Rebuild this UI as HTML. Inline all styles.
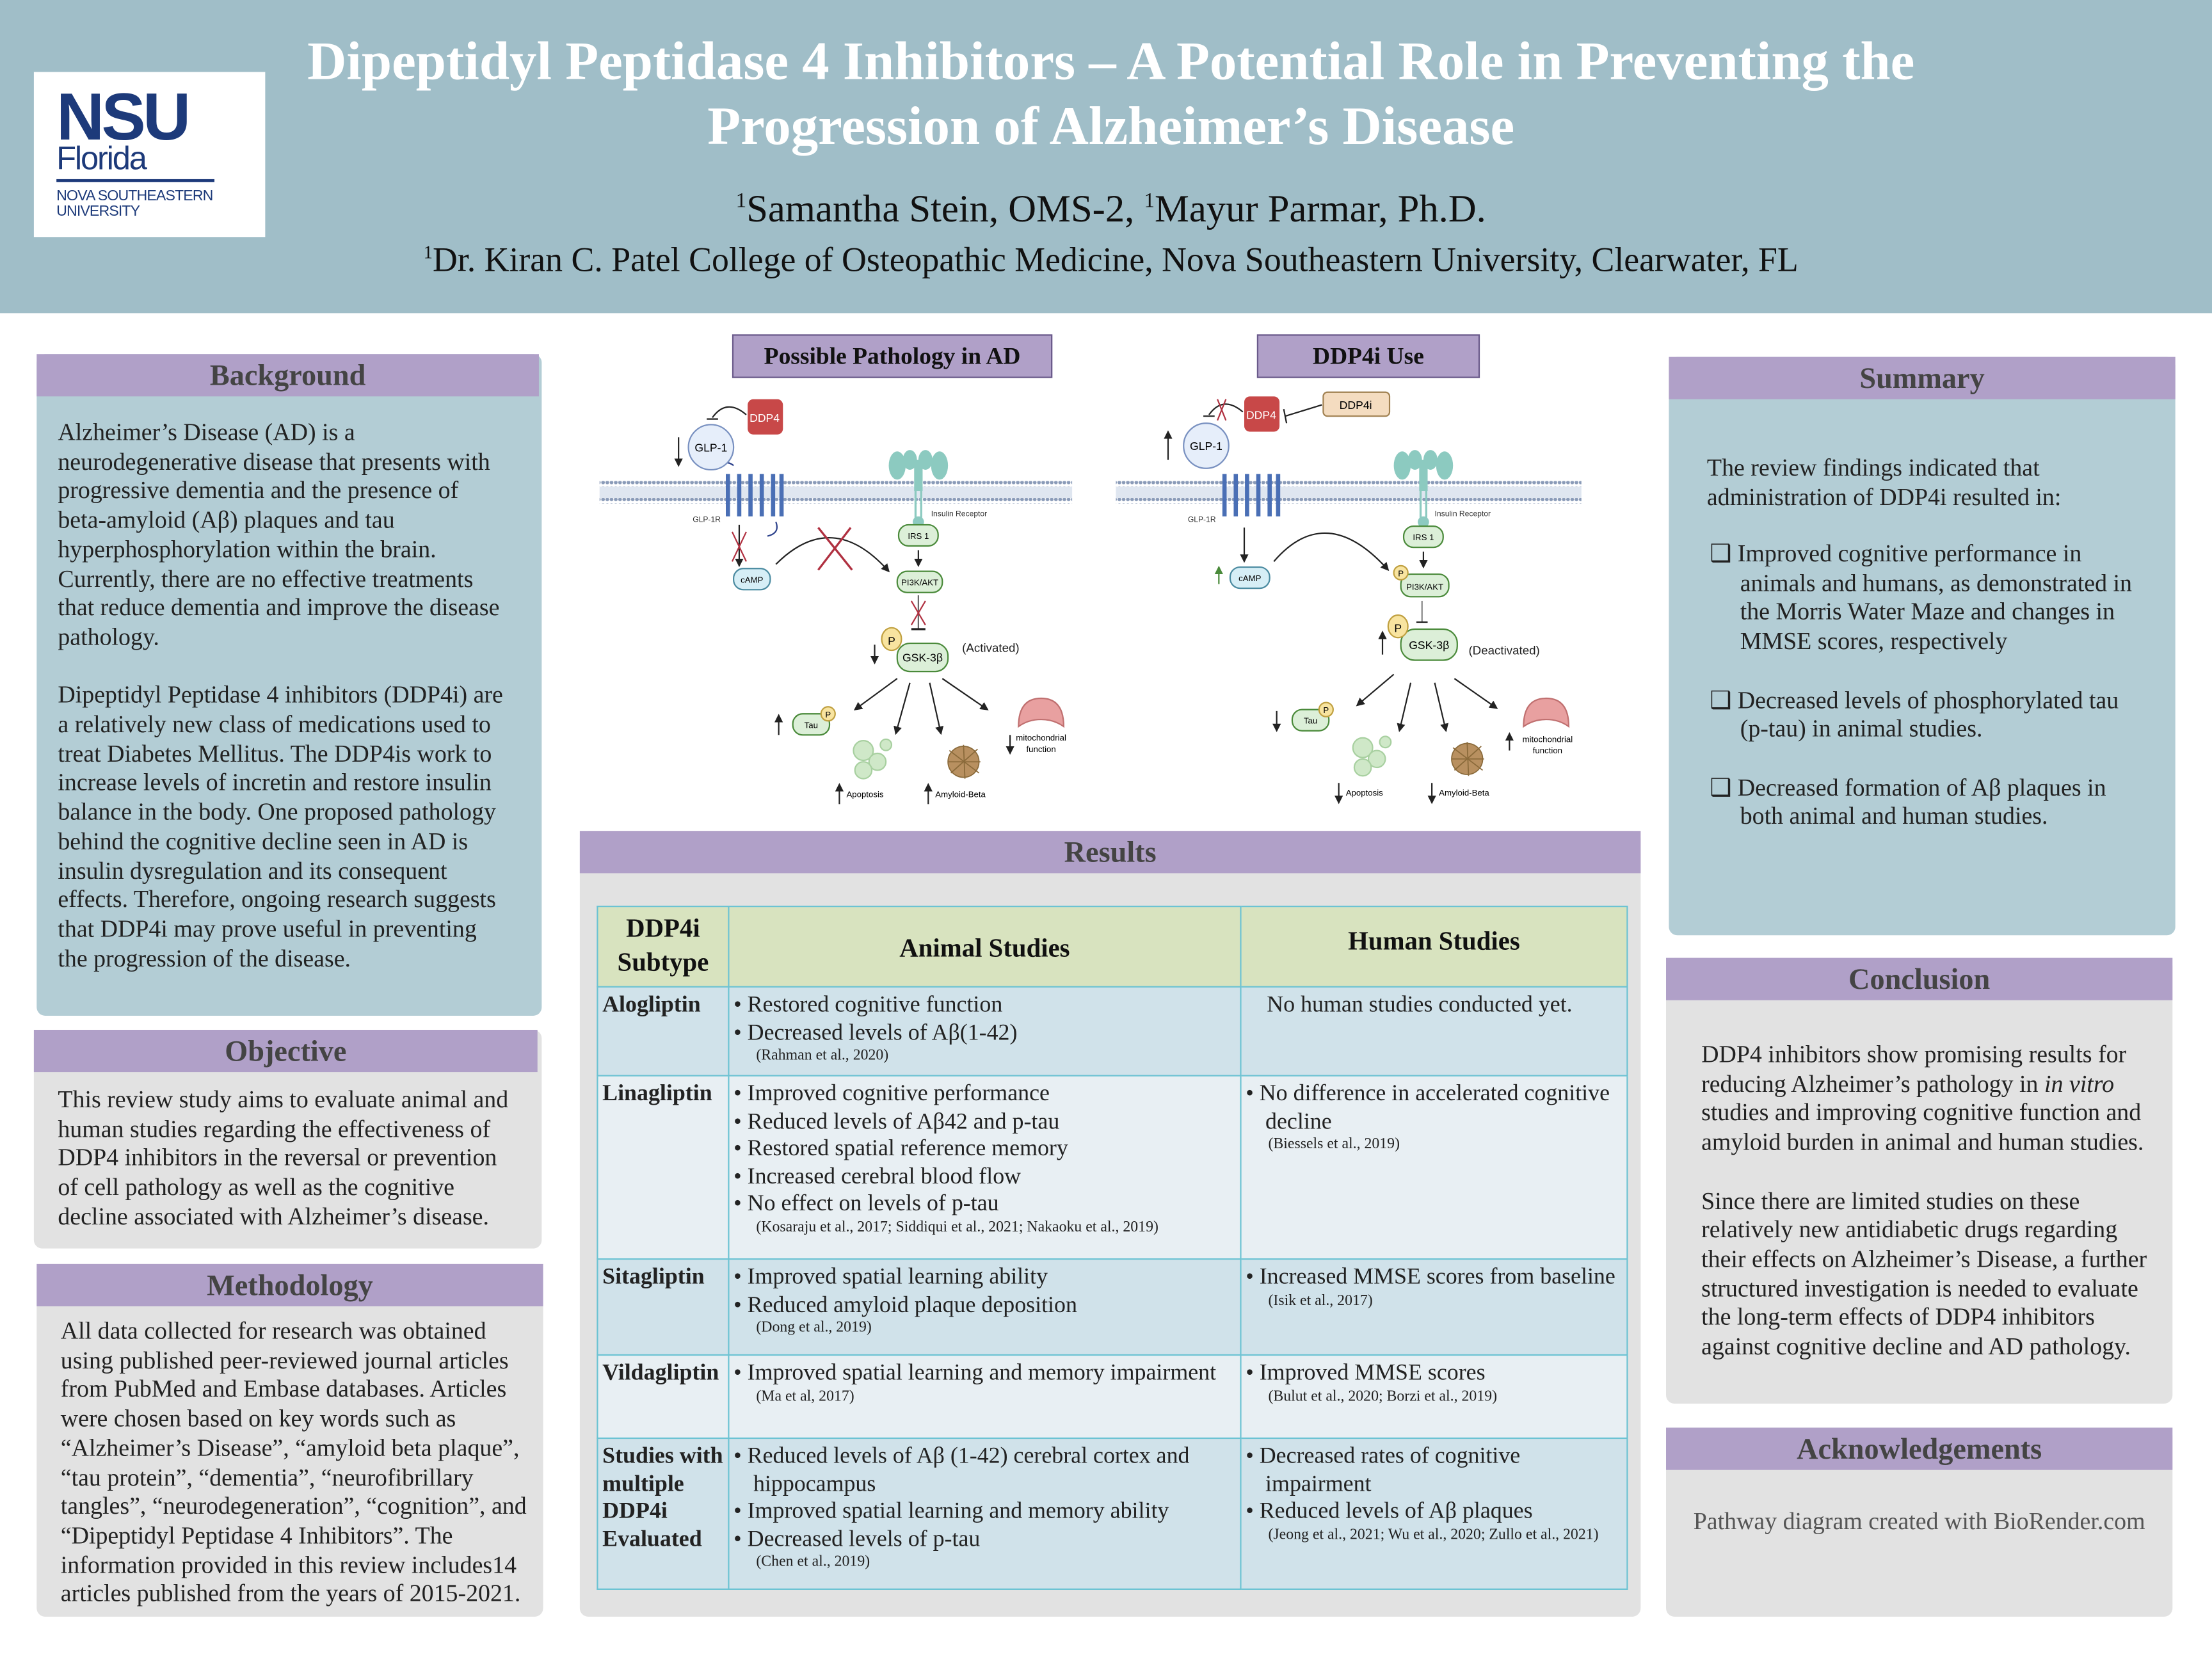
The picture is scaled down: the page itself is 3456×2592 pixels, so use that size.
<!DOCTYPE html>
<html><head><meta charset="utf-8">
<style>
html,body{margin:0;padding:0;background:#fff;}
body{width:3456px;height:2592px;overflow:hidden;}
#p{position:absolute;left:0;top:0;width:1568px;height:1176px;transform:scale(2.20408);transform-origin:0 0;font-family:"Liberation Serif",serif;color:#222;}
.abs{position:absolute;}
.hdr{position:absolute;background:#b0a0c8;color:#444;font-weight:bold;font-size:21px;text-align:center;line-height:30px;height:30px;}
.box{position:absolute;border-radius:6px;}
.txt{position:absolute;font-size:17.2px;line-height:20.7px;white-space:nowrap;}
table{border-collapse:collapse;font-size:16.3px;line-height:19.6px;}
td{border:1px solid #6cc3d3;vertical-align:top;padding:2px 3px;}
.cit{font-size:10.8px;line-height:14px;padding-left:16px;}
.b{padding-left:14px;text-indent:-14px;}
</style></head><body><div id="p">
<div class="abs" style="left:0;top:0;width:1568px;height:222px;background:#a0bec8;"></div>
<div class="abs" style="left:24px;top:51px;width:164px;height:117px;background:#fff;"></div>
<div class="abs" style="left:40px;top:55px;font-family:'Liberation Sans',sans-serif;font-weight:bold;font-size:47px;color:#1d3a7a;letter-spacing:-2px;">NSU</div>
<div class="abs" style="left:40px;top:99px;font-family:'Liberation Sans',sans-serif;font-size:23px;color:#1d3a7a;letter-spacing:-1px;">Florida</div>
<div class="abs" style="left:40px;top:127px;width:112px;height:1.5px;background:#1d3a7a;"></div>
<div class="abs" style="left:40px;top:134px;font-family:'Liberation Sans',sans-serif;font-size:10.5px;line-height:11px;color:#1d3a7a;letter-spacing:-0.4px;">NOVA SOUTHEASTERN<br>UNIVERSITY</div>
<div class="abs" style="left:150px;top:21px;width:1275px;text-align:center;color:#fff;font-weight:bold;font-size:38.5px;line-height:46px;white-space:nowrap;">Dipeptidyl Peptidase 4 Inhibitors – A Potential Role in Preventing the<br>Progression of Alzheimer’s Disease</div>
<div class="abs" style="left:300px;top:132px;width:975px;text-align:center;font-size:27.5px;color:#111;"><sup style="font-size:15px">1</sup>Samantha Stein, OMS-2, <sup style="font-size:15px">1</sup>Mayur Parmar, Ph.D.</div>
<div class="abs" style="left:200px;top:171px;width:1175px;text-align:center;font-size:24.4px;color:#111;white-space:nowrap;"><sup style="font-size:13px">1</sup>Dr. Kiran C. Patel College of Osteopathic Medicine, Nova Southeastern University, Clearwater, FL</div>

<div class="box" style="left:26px;top:251px;width:358px;height:469px;background:#b3cdd5;"></div>
<div class="hdr" style="left:26px;top:251px;width:356px;">Background</div>
<div class="txt" style="left:41px;top:297px;">Alzheimer’s Disease (AD) is a<br>neurodegenerative disease that presents with<br>progressive dementia and the presence of<br>beta-amyloid (Aβ) plaques and tau<br>hyperphosphorylation within the brain.<br>Currently, there are no effective treatments<br>that reduce dementia and improve the disease<br>pathology.<br><br>Dipeptidyl Peptidase 4 inhibitors (DDP4i) are<br>a relatively new class of medications used to<br>treat Diabetes Mellitus. The DDP4is work to<br>increase levels of incretin and restore insulin<br>balance in the body. One proposed pathology<br>behind the cognitive decline seen in AD is<br>insulin dysregulation and its consequent<br>effects. Therefore, ongoing research suggests<br>that DDP4i may prove useful in preventing<br>the progression of the disease.</div>

<div class="box" style="left:24px;top:730px;width:360px;height:155px;background:#e2e2e2;"></div>
<div class="hdr" style="left:24px;top:730px;width:357px;">Objective</div>
<div class="txt" style="left:41px;top:770px;">This review study aims to evaluate animal and<br>human studies regarding the effectiveness of<br>DDP4 inhibitors in the reversal or prevention<br>of cell pathology as well as the cognitive<br>decline associated with Alzheimer’s disease.</div>

<div class="box" style="left:26px;top:896px;width:359px;height:250px;background:#e2e2e2;"></div>
<div class="hdr" style="left:26px;top:896px;width:359px;">Methodology</div>
<div class="txt" style="left:43px;top:934px;">All data collected for research was obtained<br>using published peer-reviewed journal articles<br>from PubMed and Embase databases. Articles<br>were chosen based on key words such as<br>“Alzheimer’s Disease”, “amyloid beta plaque”,<br>“tau protein”, “dementia”, “neurofibrillary<br>tangles”, “neurodegeneration”, “cognition”, and<br>“Dipeptidyl Peptidase 4 Inhibitors”. The<br>information provided in this review includes14<br>articles published from the years of 2015-2021.</div>

<div class="abs" style="left:519px;top:237px;width:225px;height:29px;background:#b0a0c8;border:1px solid #6a5a8a;text-align:center;font-weight:bold;font-size:17px;line-height:30px;color:#111;">Possible Pathology in AD</div>
<div class="abs" style="left:891px;top:237px;width:156px;height:29px;background:#b0a0c8;border:1px solid #6a5a8a;text-align:center;font-weight:bold;font-size:17px;line-height:30px;color:#111;">DDP4i Use</div>
<svg class="abs" style="left:0;top:0" width="1568" height="600" viewBox="0 0 1568 600" font-family="Liberation Sans, sans-serif">
<defs>
<pattern id="dots" width="3" height="4" patternUnits="userSpaceOnUse"><circle cx="1.5" cy="2" r="1.3" fill="#8a9bb8"/></pattern>
<marker id="ah" markerWidth="6" markerHeight="6" refX="5" refY="3" orient="auto"><path d="M0,0 L6,3 L0,6 z" fill="#222"/></marker>
<marker id="ahg" markerWidth="6" markerHeight="6" refX="5" refY="3" orient="auto"><path d="M0,0 L6,3 L0,6 z" fill="#4a8a3a"/></marker>
</defs>
<g>
<rect x="425" y="341" width="335" height="4" fill="url(#dots)"/>
<rect x="425" y="345" width="335" height="8" fill="#dfe6f0"/>
<rect x="425" y="353" width="335" height="4" fill="url(#dots)"/>
<g fill="none" stroke="#4a6fb5" stroke-width="3"><path d="M516,336 v30 M524,336 v30 M532,336 v30 M540,336 v30 M548,336 v30 M554,336 v30"/></g>
<path d="M510,330 q5,-4 10,0 M550,370 q3,8 -6,10" stroke="#2a3f8a" stroke-width="1" fill="none"/>
<text x="491" y="370" font-size="5.5" fill="#333">GLP-1R</text>
<circle cx="504" cy="317" r="16" fill="#e6eefa" stroke="#7890c0"/>
<text x="504" y="320" font-size="8" text-anchor="middle">GLP-1</text>
<line x1="481" y1="310" x2="481" y2="330" stroke="#222" marker-end="url(#ah)"/>
<rect x="530" y="283" width="25" height="25" rx="4" fill="#c84848"/>
<text x="542" y="299" font-size="8" fill="#fff" text-anchor="middle">DDP4</text>
<path d="M529,294 q-14,-12 -24,2" stroke="#222" fill="none"/><line x1="501" y1="297" x2="509" y2="297" stroke="#222"/>
<g fill="#8ccac0"><ellipse cx="636" cy="330" rx="6" ry="10"/><ellipse cx="666" cy="330" rx="6" ry="10"/><ellipse cx="645" cy="326" rx="5" ry="7"/><ellipse cx="656" cy="326" rx="5" ry="7"/><rect x="648" y="326" width="6" height="22"/><circle cx="651" cy="370" r="4"/></g>
<path d="M649,348 v20 M653,348 v20" stroke="#8ccac0" stroke-width="1.5"/>
<text x="660" y="366" font-size="5.5" fill="#333">Insulin Receptor</text>
<rect x="637" y="372" width="28" height="15" rx="7" fill="#dcefd8" stroke="#4a8a3a"/>
<text x="651" y="382" font-size="6" text-anchor="middle">IRS 1</text>
<line x1="651" y1="390" x2="651" y2="401" stroke="#222" marker-end="url(#ah)"/>
<rect x="636" y="405" width="32" height="15" rx="7" fill="#dcefd8" stroke="#4a8a3a"/>
<text x="652" y="415" font-size="6" text-anchor="middle">PI3K/AKT</text>
<line x1="524" y1="372" x2="524" y2="401" stroke="#222" marker-end="url(#ah)"/>
<rect x="520" y="403" width="26" height="15" rx="7" fill="#d6eef6" stroke="#4a8aa0"/>
<text x="533" y="413" font-size="6" text-anchor="middle">cAMP</text>
<path d="M550,400 Q590,360 630,405" stroke="#222" fill="none" marker-end="url(#ah)"/>
<path d="M580,374 L604,404 M603,374 L580,404" stroke="#b03040" stroke-width="1.5"/>
<path d="M519,377 L529,398 M529,377 L519,398" stroke="#b03040" stroke-width="1"/>
<line x1="651" y1="422" x2="651" y2="446" stroke="#666"/><line x1="646" y1="446" x2="656" y2="446" stroke="#222" stroke-width="1.5"/>
<path d="M646,426 L656,443 M656,426 L646,443" stroke="#b03040"/>
<rect x="636" y="456" width="36" height="20" rx="9" fill="#dcefd8" stroke="#4a8a3a"/>
<text x="654" y="469" font-size="8" text-anchor="middle">GSK-3β</text>
<ellipse cx="632" cy="453" rx="7" ry="8" fill="#f8e4a0" stroke="#c0a040"/><text x="632" y="457" font-size="8" text-anchor="middle">P</text>
<line x1="620" y1="457" x2="620" y2="470" stroke="#222" marker-end="url(#ah)"/>
<text x="682" y="462" font-size="8.5" fill="#222">(Activated)</text>
<g stroke="#222" fill="none" marker-end="url(#ah)">
<line x1="636" y1="481" x2="606" y2="503"/><line x1="645" y1="484" x2="635" y2="520"/><line x1="659" y1="484" x2="667" y2="520"/><line x1="668" y1="481" x2="700" y2="503"/>
</g>
<rect x="562" y="506" width="26" height="15" rx="7" fill="#dcefd8" stroke="#4a8a3a"/><text x="575" y="516" font-size="6" text-anchor="middle">Tau</text>
<circle cx="587" cy="506" r="5" fill="#f8e4a0" stroke="#c0a040"/><text x="587" y="508.5" font-size="6" text-anchor="middle">P</text>
<line x1="552" y1="521" x2="552" y2="507" stroke="#222" marker-end="url(#ah)"/>
<g fill="#cfe8c8" stroke="#a8d0a0"><circle cx="612" cy="532" r="7"/><circle cx="622" cy="540" r="6"/><circle cx="612" cy="546" r="6"/><circle cx="628" cy="528" r="4"/></g>
<line x1="595" y1="570" x2="595" y2="556" stroke="#222" marker-end="url(#ah)"/><text x="600" y="565" font-size="6">Apoptosis</text>
<g stroke="#8a6a3a" stroke-width="0.8" fill="none"><circle cx="683" cy="540" r="11" fill="#b89060"/><path d="M673,532 L694,548 M674,548 L693,531 M672,540 L695,540 M683,528 L684,552"/></g>
<line x1="658" y1="570" x2="658" y2="556" stroke="#222" marker-end="url(#ah)"/><text x="663" y="565" font-size="6">Amyloid-Beta</text>
<path d="M722,515 Q722,495 738,495 Q754,495 754,515 Q747,510 738,510 Q729,510 722,515 z" fill="#e8a0a0" stroke="#c07070"/>
<text x="738" y="525" font-size="6" text-anchor="middle">mitochondrial</text><text x="738" y="533" font-size="6" text-anchor="middle">function</text>
<line x1="716" y1="521" x2="716" y2="534" stroke="#222" marker-end="url(#ah)"/>
</g>
<g>
<rect x="791" y="341" width="330" height="4" fill="url(#dots)"/>
<rect x="791" y="345" width="330" height="8" fill="#dfe6f0"/>
<rect x="791" y="353" width="330" height="4" fill="url(#dots)"/>
<g fill="none" stroke="#4a6fb5" stroke-width="3"><path d="M868,336 v30 M876,336 v30 M884,336 v30 M892,336 v30 M900,336 v30 M906,336 v30"/></g>
<text x="842" y="370" font-size="5.5" fill="#333">GLP-1R</text>
<circle cx="855" cy="316" r="16" fill="#e6eefa" stroke="#7890c0"/><text x="855" y="319" font-size="8" text-anchor="middle">GLP-1</text>
<line x1="828" y1="326" x2="828" y2="306" stroke="#222" marker-end="url(#ah)"/>
<rect x="882" y="281" width="25" height="25" rx="4" fill="#c84848"/><text x="894" y="297" font-size="8" fill="#fff" text-anchor="middle">DDP4</text>
<path d="M881,292 q-14,-12 -24,2" stroke="#222" fill="none"/><line x1="853" y1="295" x2="861" y2="295" stroke="#222"/>
<path d="M863,283 L869,298 M869,283 L863,298" stroke="#b03040"/>
<rect x="938" y="278" width="47" height="17" rx="3" fill="#f4dcc0" stroke="#a08050"/><text x="961" y="290" font-size="8" text-anchor="middle">DDP4i</text>
<line x1="937" y1="287" x2="911" y2="295" stroke="#222"/><line x1="910" y1="290" x2="912" y2="300" stroke="#222"/>
<g fill="#8ccac0"><ellipse cx="994" cy="330" rx="6" ry="10"/><ellipse cx="1024" cy="330" rx="6" ry="10"/><ellipse cx="1003" cy="326" rx="5" ry="7"/><ellipse cx="1014" cy="326" rx="5" ry="7"/><rect x="1006" y="326" width="6" height="22"/><circle cx="1009" cy="370" r="4"/></g>
<path d="M1007,348 v20 M1011,348 v20" stroke="#8ccac0" stroke-width="1.5"/>
<text x="1017" y="366" font-size="5.5" fill="#333">Insulin Receptor</text>
<rect x="995" y="373" width="28" height="15" rx="7" fill="#dcefd8" stroke="#4a8a3a"/><text x="1009" y="383" font-size="6" text-anchor="middle">IRS 1</text>
<line x1="1009" y1="391" x2="1009" y2="402" stroke="#222" marker-end="url(#ah)"/>
<rect x="993" y="407" width="34" height="16" rx="7" fill="#dcefd8" stroke="#4a8a3a"/><text x="1010" y="418" font-size="6" text-anchor="middle">PI3K/AKT</text>
<circle cx="993" cy="406" r="5" fill="#f8e4a0" stroke="#c0a040"/><text x="993" y="408.5" font-size="6" text-anchor="middle">P</text>
<line x1="882" y1="374" x2="882" y2="398" stroke="#222" marker-end="url(#ah)"/>
<rect x="872" y="402" width="28" height="15" rx="7" fill="#d6eef6" stroke="#4a8aa0"/><text x="886" y="412" font-size="6" text-anchor="middle">cAMP</text>
<line x1="864" y1="414" x2="864" y2="402" stroke="#4a8a3a" marker-end="url(#ahg)"/>
<path d="M903,398 Q940,355 984,404" stroke="#222" fill="none" marker-end="url(#ah)"/>
<line x1="1008" y1="426" x2="1008" y2="441" stroke="#888"/><line x1="1004" y1="441" x2="1012" y2="441" stroke="#222"/>
<rect x="993" y="446" width="40" height="22" rx="10" fill="#dcefd8" stroke="#4a8a3a"/><text x="1013" y="460" font-size="8" text-anchor="middle">GSK-3β</text>
<ellipse cx="991" cy="444" rx="7" ry="8" fill="#f8e4a0" stroke="#c0a040"/><text x="991" y="448" font-size="8" text-anchor="middle">P</text>
<line x1="980" y1="464" x2="980" y2="448" stroke="#222" marker-end="url(#ah)"/>
<text x="1041" y="464" font-size="8.5" fill="#222">(Deactivated)</text>
<g stroke="#222" fill="none" marker-end="url(#ah)">
<line x1="988" y1="478" x2="962" y2="500"/><line x1="1000" y1="484" x2="992" y2="518"/><line x1="1017" y1="484" x2="1025" y2="518"/><line x1="1031" y1="481" x2="1061" y2="502"/>
</g>
<rect x="916" y="503" width="26" height="15" rx="7" fill="#dcefd8" stroke="#4a8a3a"/><text x="929" y="513" font-size="6" text-anchor="middle">Tau</text>
<circle cx="940" cy="503" r="5" fill="#f8e4a0" stroke="#c0a040"/><text x="940" y="505.5" font-size="6" text-anchor="middle">P</text>
<line x1="905" y1="504" x2="905" y2="518" stroke="#222" marker-end="url(#ah)"/>
<g fill="#cfe8c8" stroke="#a8d0a0"><circle cx="966" cy="530" r="7"/><circle cx="976" cy="538" r="6"/><circle cx="966" cy="544" r="6"/><circle cx="982" cy="526" r="4"/></g>
<line x1="949" y1="555" x2="949" y2="569" stroke="#222" marker-end="url(#ah)"/><text x="954" y="564" font-size="6">Apoptosis</text>
<g stroke="#8a6a3a" stroke-width="0.8" fill="none"><circle cx="1040" cy="538" r="11" fill="#b89060"/><path d="M1030,530 L1051,546 M1031,546 L1050,529 M1029,538 L1052,538 M1040,526 L1041,550"/></g>
<line x1="1015" y1="555" x2="1015" y2="569" stroke="#222" marker-end="url(#ah)"/><text x="1020" y="564" font-size="6">Amyloid-Beta</text>
<path d="M1080,515 Q1080,495 1096,495 Q1112,495 1112,515 Q1105,510 1096,510 Q1087,510 1080,515 z" fill="#e8a0a0" stroke="#c07070"/>
<text x="1097" y="526" font-size="6" text-anchor="middle">mitochondrial</text><text x="1097" y="534" font-size="6" text-anchor="middle">function</text>
<line x1="1070" y1="532" x2="1070" y2="520" stroke="#222" marker-end="url(#ah)"/>
</g>
</svg>

<div class="box" style="left:411px;top:589px;width:752px;height:557px;background:#e2e2e2;"></div>
<div class="hdr" style="left:411px;top:589px;width:752px;">Results</div>
<table class="abs" style="left:423px;top:642px;width:731px;">
<tr style="background:#d8e3bf;height:57px;"><td style="width:86px;text-align:center;font-weight:bold;font-size:18.5px;line-height:24px;vertical-align:middle;color:#111;">DDP4i<br>Subtype</td><td style="width:356px;text-align:center;font-weight:bold;font-size:18.5px;vertical-align:middle;color:#111;padding-top:8px;">Animal Studies</td><td style="text-align:center;font-weight:bold;font-size:18.5px;vertical-align:middle;color:#111;padding-bottom:6px;">Human Studies</td></tr>
<tr style="background:#d0e2ea;height:63px;"><td><b>Alogliptin</b></td><td><div class="b">• Restored cognitive function</div><div class="b">• Decreased levels of Aβ(1-42)</div><div class="cit">(Rahman et al., 2020)</div></td><td style="padding-left:18px">No human studies conducted yet.</td></tr>
<tr style="background:#e8eff3;height:130px;"><td><b>Linagliptin</b></td><td><div class="b">• Improved cognitive performance</div><div class="b">• Reduced levels of Aβ42 and p-tau</div><div class="b">• Restored spatial reference memory</div><div class="b">• Increased cerebral blood flow</div><div class="b">• No effect on levels of p-tau</div><div class="cit">(Kosaraju et al., 2017; Siddiqui et al., 2021; Nakaoku et al., 2019)</div></td><td><div class="b">• No difference in accelerated cognitive decline</div><div class="cit">(Biessels et al., 2019)</div></td></tr>
<tr style="background:#d0e2ea;height:68px;"><td><b>Sitagliptin</b></td><td><div class="b">• Improved spatial learning ability</div><div class="b">• Reduced amyloid plaque deposition</div><div class="cit">(Dong et al., 2019)</div></td><td><div class="b" style="white-space:nowrap">• Increased MMSE scores from baseline</div><div class="cit">(Isik et al., 2017)</div></td></tr>
<tr style="background:#e8eff3;height:59px;"><td><b>Vildagliptin</b></td><td><div class="b" style="white-space:nowrap">• Improved spatial learning and memory impairment</div><div class="cit">(Ma et al, 2017)</div></td><td><div class="b">• Improved MMSE scores</div><div class="cit">(Bulut et al., 2020; Borzi et al., 2019)</div></td></tr>
<tr style="background:#d0e2ea;height:107px;"><td><b>Studies with multiple DDP4i Evaluated</b></td><td><div class="b">• Reduced levels of Aβ (1-42) cerebral cortex and hippocampus</div><div class="b">• Improved spatial learning and memory ability</div><div class="b">• Decreased levels of p-tau</div><div class="cit">(Chen et al., 2019)</div></td><td><div class="b">• Decreased rates of cognitive<br>impairment</div><div class="b">• Reduced levels of Aβ plaques</div><div class="cit">(Jeong et al., 2021; Wu et al., 2020; Zullo et al., 2021)</div></td></tr>
</table>

<div class="box" style="left:1183px;top:253px;width:359px;height:410px;background:#b3cdd5;"></div>
<div class="hdr" style="left:1183px;top:253px;width:359px;">Summary</div>
<div class="txt" style="left:1210px;top:322px;">The review findings indicated that<br>administration of DDP4i resulted in:</div>
<div class="txt" style="left:1212px;top:383px;">
<div style="margin-bottom:20.7px;">❑ Improved cognitive performance in<br>&nbsp;&nbsp;&nbsp;&nbsp;&nbsp;animals and humans, as demonstrated in<br>&nbsp;&nbsp;&nbsp;&nbsp;&nbsp;the Morris Water Maze and changes in<br>&nbsp;&nbsp;&nbsp;&nbsp;&nbsp;MMSE scores, respectively</div>
<div style="margin-bottom:20.7px;">❑ Decreased levels of phosphorylated tau<br>&nbsp;&nbsp;&nbsp;&nbsp;&nbsp;(p-tau) in animal studies.</div>
<div>❑ Decreased formation of Aβ plaques in<br>&nbsp;&nbsp;&nbsp;&nbsp;&nbsp;both animal and human studies.</div>
</div>

<div class="box" style="left:1181px;top:679px;width:359px;height:316px;background:#e2e2e2;"></div>
<div class="hdr" style="left:1181px;top:679px;width:359px;">Conclusion</div>
<div class="txt" style="left:1206px;top:738px;">DDP4 inhibitors show promising results for<br>reducing Alzheimer’s pathology in <i>in vitro</i><br>studies and improving cognitive function and<br>amyloid burden in animal and human studies.<br><br>Since there are limited studies on these<br>relatively new antidiabetic drugs regarding<br>their effects on Alzheimer’s Disease, a further<br>structured investigation is needed to evaluate<br>the long-term effects of DDP4 inhibitors<br>against cognitive decline and AD pathology.</div>

<div class="box" style="left:1181px;top:1012px;width:359px;height:134px;background:#e2e2e2;"></div>
<div class="hdr" style="left:1181px;top:1012px;width:359px;">Acknowledgements</div>
<div class="txt" style="left:1181px;width:359px;text-align:center;top:1069px;color:#555;">Pathway diagram created with BioRender.com</div>
</div></body></html>
